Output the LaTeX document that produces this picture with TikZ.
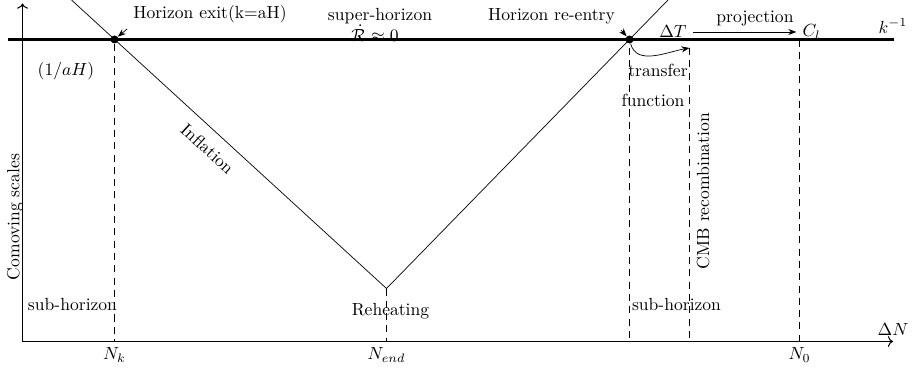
\documentclass[tikz,border=0pt]{standalone}
\usepackage{amsmath, amssymb}
\usetikzlibrary{arrows.meta, positioning}

\begin{document}
\begin{tikzpicture}[
  axis/.style={->, semithick},
  horizon/.style={line width=1.2pt},
  dashline/.style={dash pattern=on 4pt off 3pt},
  dot/.style={circle, fill, inner sep=0pt, minimum size=1.6mm},
  pointer/.style={-{Stealth[length=1.6mm]}}
]
\useasboundingbox (0,0) rectangle (18.24,7.48);

% axes and the horizon line
\coordinate (ytop) at (0.45,7.41);
\coordinate (xend) at (17.86,0.65);
\coordinate (kl) at (0.17,6.69);
\coordinate (kr) at (17.87,6.69);
\draw[axis, <->] (ytop) |- (xend);
\draw[horizon] (kl) -- (kr);
\node[above] (dN) at (xend) {$\Delta N$};
\node[above left=0pt and -4mm] (kinv) at (kr) {$k^{-1}$};
\node[rotate=90] (como) at (0.3,3.14) {Comoving scales};

% the V
\node[dot] (hx) at (2.29,6.69) {};
\node[dot] (hr) at (12.59,6.69) {};
\coordinate (vl) at (1.43,7.48);
\coordinate (reh) at (7.73,1.71);
\coordinate (vr) at (13.36,7.48);
\draw (vl) -- node[sloped, below=3pt, pos=0.47] (infl) {Inflation} (reh) -- (vr);

% times on the axis
\coordinate (nk) at (2.29,0.65);
\coordinate (nend) at (7.73,0.65);
\coordinate (ntf) at (12.59,0.65);
\coordinate (ncmb) at (13.79,0.65);
\coordinate (n0) at (15.99,0.65);
\coordinate (tf) at (12.59,6.52);
\coordinate (cmb) at (13.79,6.52);
\coordinate (c0) at (15.99,6.69);
\node[below] (Nk) at (nk) {$N_k$};
\node[below] (Nend) at (nend) {$N_{end}$};
\node[below] (N0) at (n0) {$N_0$};

\draw[dashline] (hx) -- (nk);
\draw[dashline] (reh) -- (nend);
\draw[dashline] (tf) -- (ntf);
\draw[dashline] (cmb) -- (ncmb);
\draw[dashline] (c0) -- (n0);

% labels
\node (hxl) at (4.2,7.2) {Horizon exit(k=aH)};
\draw[pointer] (hxl.south west) -- (hx);
\node (hrl) at (11.03,7.16) {Horizon re-entry};
\draw[pointer] (hrl.south east) -- (hr);
\node (sup) at (7.6,7.16) {super-horizon};
\node (rdot) at (7.5,6.82) {$\dot{\mathcal{R}}\approx 0$};
\node (aH) at (1.32,6.05) {$(1/aH)$};

\node (dT) at (13.46,6.84) {$\Delta T$};
\node (Cl) at (16.23,6.84) {$C_l$};
\draw[pointer] (dT) -- node[above, pos=0.6] (proj) {projection} (Cl);
\draw[pointer] (hr) to[out=-75, in=190] (cmb);

\node (trans) at (13.16,6.08) {transfer};
\node (func) at (13.06,5.47) {function};
\node[rotate=90] (cmbl) at (14.06,3.66) {CMB recombination};

\node (subl) at (1.45,1.38) {sub-horizon};
\node (rehl) at (7.81,1.26) {Reheating};
\node (subr) at (13.53,1.38) {sub-horizon};
\end{tikzpicture}
\end{document}
